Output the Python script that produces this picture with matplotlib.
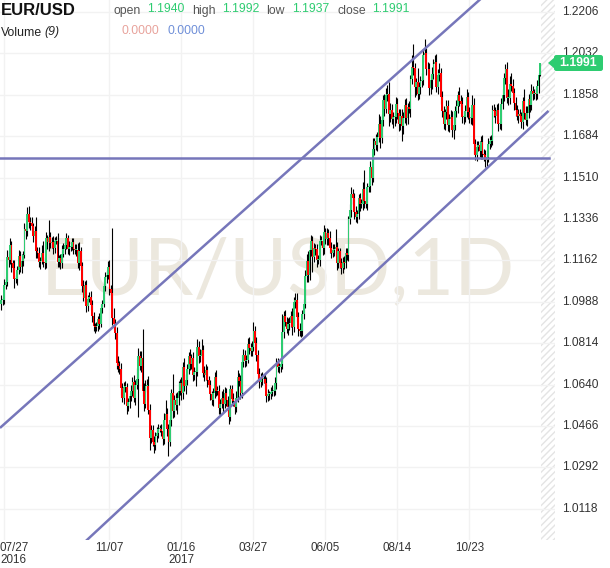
import numpy as np
import matplotlib.pyplot as plt
from matplotlib.patches import Polygon, FancyBboxPatch
from matplotlib.transforms import blended_transform_factory

plt.rcParams['font.family'] = ['Liberation Sans', 'DejaVu Sans']

# EUR/USD daily closes, one row per week (Mon..Fri), 2016-07-25 .. 2017-12-29
closes = [
    1.0995, 1.0995, 1.1060, 1.1070, 1.1175,
    1.1165, 1.1225, 1.1150, 1.1130, 1.1085,
    1.1085, 1.1120, 1.1180, 1.1135, 1.1160,
    1.1185, 1.1295, 1.1285, 1.1355, 1.1325,
    1.1320, 1.1305, 1.1265, 1.1285, 1.1200,
    1.1195, 1.1155, 1.1160, 1.1195, 1.1155,
    1.1150, 1.1255, 1.1240, 1.1260, 1.1235,
    1.1240, 1.1215, 1.1245, 1.1245, 1.1155,
    1.1170, 1.1150, 1.1190, 1.1210, 1.1225,
    1.1255, 1.1210, 1.1220, 1.1220, 1.1240,
    1.1210, 1.1205, 1.1205, 1.1150, 1.1200,
    1.1140, 1.1055, 1.1005, 1.1060, 1.0970,
    1.1000, 1.1010, 1.0975, 1.0930, 1.0885,
    1.0880, 1.0885, 1.0915, 1.0895, 1.0960,
    1.0980, 1.1055, 1.1090, 1.1100, 1.1135,
    1.1040, 1.1025, 1.0920, 1.0895, 1.0855,
    1.0730, 1.0720, 1.0705, 1.0625, 1.0585,
    1.0630, 1.0630, 1.0550, 1.0565, 1.0590,
    1.0615, 1.0650, 1.0585, 1.0640, 1.0665,
    1.0760, 1.0720, 1.0750, 1.0615, 1.0560,
    1.0635, 1.0635, 1.0535, 1.0415, 1.0450,
    1.0400, 1.0385, 1.0425, 1.0435, 1.0455,
    1.0455, 1.0445, 1.0410, 1.0490, 1.0515,
    1.0455, 1.0400, 1.0490, 1.0605, 1.0530,
    1.0575, 1.0555, 1.0585, 1.0615, 1.0645,
    1.0605, 1.0715, 1.0635, 1.0660, 1.0705,
    1.0760, 1.0725, 1.0750, 1.0680, 1.0695,
    1.0695, 1.0800, 1.0760, 1.0760, 1.0785,
    1.0690, 1.0680, 1.0700, 1.0660, 1.0640,
    1.0600, 1.0575, 1.0605, 1.0670, 1.0615,
    1.0615, 1.0540, 1.0560, 1.0585, 1.0560,
    1.0605, 1.0575, 1.0545, 1.0505, 1.0620,
    1.0580, 1.0570, 1.0545, 1.0585, 1.0670,
    1.0655, 1.0605, 1.0735, 1.0765, 1.0740,
    1.0745, 1.0810, 1.0795, 1.0780, 1.0800,
    1.0865, 1.0815, 1.0765, 1.0685, 1.0650,
    1.0670, 1.0665, 1.0665, 1.0645, 1.0590,
    1.0600, 1.0600, 1.0610, 1.0615, 1.0615,
    1.0645, 1.0730, 1.0715, 1.0715, 1.0725,
    1.0860, 1.0930, 1.0905, 1.0875, 1.0895,
    1.0900, 1.0930, 1.0880, 1.0985, 1.0995,
    1.0925, 1.0875, 1.0865, 1.0865, 1.0935,
    1.0980, 1.1095, 1.1160, 1.1100, 1.1205,
    1.1245, 1.1175, 1.1215, 1.1210, 1.1165,
    1.1165, 1.1245, 1.1245, 1.1215, 1.1280,
    1.1250, 1.1275, 1.1255, 1.1215, 1.1195,
    1.1205, 1.1210, 1.1220, 1.1150, 1.1200,
    1.1150, 1.1130, 1.1155, 1.1150, 1.1195,
    1.1185, 1.1335, 1.1375, 1.1440, 1.1425,
    1.1365, 1.1345, 1.1355, 1.1425, 1.1400,
    1.1400, 1.1460, 1.1410, 1.1400, 1.1470,
    1.1475, 1.1555, 1.1510, 1.1630, 1.1665,
    1.1645, 1.1680, 1.1735, 1.1675, 1.1750,
    1.1835, 1.1800, 1.1855, 1.1860, 1.1775,
    1.1795, 1.1755, 1.1765, 1.1765, 1.1820,
    1.1780, 1.1735, 1.1770, 1.1725, 1.1760,
    1.1815, 1.1760, 1.1805, 1.1800, 1.1925,
    1.1975, 1.1970, 1.1890, 1.1910, 1.1860,
    1.1890, 1.1915, 1.1920, 1.2025, 1.2035,
    1.1965, 1.1965, 1.1885, 1.1920, 1.1945,
    1.1985, 1.1995, 1.1890, 1.1940, 1.1950,
    1.1850, 1.1790, 1.1735, 1.1785, 1.1810,
    1.1730, 1.1755, 1.1765, 1.1710, 1.1730,
    1.1790, 1.1810, 1.1855, 1.1830, 1.1820,
    1.1765, 1.1765, 1.1790, 1.1850, 1.1785,
    1.1760, 1.1760, 1.1815, 1.1650, 1.1605,
    1.1640, 1.1645, 1.1620, 1.1660, 1.1610,
    1.1605, 1.1585, 1.1595, 1.1650, 1.1665,
    1.1665, 1.1795, 1.1790, 1.1770, 1.1795,
    1.1735, 1.1735, 1.1820, 1.1855, 1.1930,
    1.1965, 1.1845, 1.1845, 1.1905, 1.1895,
    1.1865, 1.1825, 1.1795, 1.1770, 1.1775,
    1.1770, 1.1745, 1.1830, 1.1780, 1.1750,
    1.1780, 1.1840, 1.1815, 1.1875, 1.1860,
    1.1865, 1.1860, 1.1895, 1.1940, 1.1991,
]
first_open = 1.0980

# upper / lower shadow length in pips, same layout
wick_up = [
    20, 15, 25, 20, 30,   25, 30, 20, 15, 35,   15, 20, 25, 20, 30,
    15, 25, 20, 30, 35,   20, 25, 15, 20, 60,   20, 25, 15, 30, 50,
    20, 25, 15, 70, 20,   20, 25, 15, 20, 30,   15, 20, 35, 25, 15,
    20, 15, 25, 20, 15,   15, 20, 25, 30, 40,   20, 15, 25, 15, 20,
    15, 20, 25, 20, 15,   15, 20, 15, 25, 20,   15, 20, 25, 20, 25,
    30, 20, 275, 40, 20,  25, 30, 20, 25, 20,   20, 25, 15, 20, 15,
    25, 20, 30, 20, 45,   35, 20, 30, 125, 30,  25, 30, 40, 25, 20,
    20, 25, 15, 25, 20,   15, 20, 30, 30, 60,   25, 20, 20, 15, 80,
    20, 30, 25, 40, 20,   25, 20, 35, 25, 20,   15, 30, 20, 25, 20,
    20, 30, 25, 30, 45,   20, 30, 25, 20, 15,   20, 15, 20, 25, 30,
    20, 25, 20, 30, 35,   25, 20, 15, 25, 20,   20, 25, 15, 30, 30,
    20, 25, 30, 25, 20,   20, 25, 30, 20, 25,   40, 20, 25, 20, 25,
    20, 25, 15, 20, 25,   20, 15, 20, 25, 15,   25, 20, 20, 15, 20,
    78, 20, 25, 20, 25,   25, 20, 30, 25, 30,   30, 20, 25, 20, 20,
    20, 25, 30, 40, 20,   25, 20, 20, 15, 20,   20, 25, 20, 25, 30,
    20, 25, 20, 30, 25,   25, 20, 75, 20, 15,   15, 20, 20, 25, 20,
    20, 15, 25, 30, 20,   20, 25, 20, 15, 20,   20, 30, 80, 20, 15,
    15, 25, 20, 45, 10,   30, 20, 40, 35, 25,   20, 25, 30, 40, 50,
    30, 25, 20, 20, 30,   25, 20, 30, 30, 25,   25, 30, 20, 25, 15,
    50, 95, 20, 20, 60,   20, 20, 30, 25, 57,   20, 30, 25, 20, 30,
    25, 30, 35, 25, 40,   20, 25, 20, 15, 25,   25, 20, 30, 25, 50,
    20, 25, 20, 35, 25,   30, 25, 25, 30, 20,   20, 20, 40, 30, 20,
    25, 20, 20, 25, 30,   20, 20, 20, 25, 20,   25, 20, 25, 15, 25,
    30, 20, 25, 25, 20,   20, 30, 35, 30, 45,   30, 20, 25, 20, 25,
    25, 15, 20, 50, 30,   30, 20, 30, 30, 20,   15, 20, 25, 10, 1,
]
wick_dn = [
    25, 20, 15, 20, 15,   30, 20, 35, 20, 40,   20, 25, 15, 20, 25,
    20, 15, 35, 20, 25,   30, 20, 25, 15, 30,   25, 20, 30, 15, 20,
    25, 20, 30, 40, 20,   20, 25, 20, 15, 20,   20, 25, 20, 15, 20,
    15, 20, 25, 20, 15,   20, 15, 25, 20, 30,   20, 25, 15, 20, 25,
    20, 15, 20, 25, 20,   25, 15, 20, 20, 15,   20, 15, 20, 25, 15,
    25, 30, 30, 25, 25,   25, 25, 20, 30, 20,   25, 20, 35, 20, 25,
    20, 25, 20, 30, 20,   160, 20, 25, 25, 30, 20, 25, 20, 50, 20,
    20, 33, 20, 25, 20,   15, 20, 25, 20, 20,   30, 60, 20, 25, 30,
    25, 20, 40, 30, 20,   30, 25, 20, 35, 20,   20, 25, 20, 25, 20,
    60, 20, 30, 25, 20,   20, 25, 20, 30, 20,   25, 20, 25, 20, 25,
    20, 25, 30, 20, 35,   20, 25, 25, 30, 20,   25, 20, 30, 20, 20,
    20, 25, 20, 20, 25,   20, 15, 25, 20, 20,   20, 30, 25, 20, 25,
    20, 25, 20, 25, 25,   20, 25, 20, 20, 25,   20, 25, 20, 25, 20,
    20, 25, 20, 20, 25,   25, 20, 30, 20, 25,   20, 30, 20, 25, 20,
    20, 20, 25, 30, 20,   25, 60, 20, 25, 30,   20, 25, 20, 30, 25,
    20, 25, 30, 20, 25,   20, 25, 20, 30, 20,   20, 25, 20, 25, 20,
    20, 25, 20, 30, 25,   30, 20, 25, 20, 30,   20, 25, 30, 20, 25,
    20, 25, 30, 20, 25,   20, 25, 20, 40, 20,   25, 30, 20, 25, 50,
    30, 20, 35, 40, 25,   25, 30, 25, 60, 30,   20, 30, 25, 20, 35,
    20, 30, 40, 35, 25,   20, 30, 25, 20, 30,   25, 20, 30, 25, 40,
    20, 25, 20, 30, 25,   30, 25, 20, 25, 30,   25, 30, 25, 30, 40,
    20, 25, 30, 20, 25,   25, 30, 20, 25, 30,   20, 25, 30, 40, 20,
    25, 20, 25, 30, 20,   25, 30, 25, 20, 20,   25, 20, 25, 30, 20,
    30, 20, 25, 20, 25,   25, 20, 30, 25, 20,   25, 30, 25, 20, 30,
    20, 25, 30, 25, 20,   25, 20, 30, 20, 25,   20, 25, 20, 30, 3,
]

tick_pos = [2, 75, 125, 175, 225, 275, 325]
tick_labels = ['07/27\n2016', '11/07', '01/16\n2017', '03/27', '06/05', '08/14', '10/23']
price_ticks = [1.2206, 1.2032, 1.1858, 1.1684, 1.1510, 1.1336, 1.1162,
               1.0988, 1.0814, 1.0640, 1.0466, 1.0292, 1.0118]

# drawn trend lines as (index, price) end points
upper_line = [(-0.97, 1.0458), (283.8, 1.1996)]
lower_line = [(59.4, 0.9987), (379.9, 1.1790)]
support_level = 1.1594
support_end = 379.9

header = [('open', '1.1940'), ('high', '1.1992'), ('low', '1.1937'), ('close', '1.1991')]
last_price = '1.1991'

GREEN = '#2ecc71'
RED = '#ff0000'
LINE = '#7676ba'

closes = np.array(closes)
opens = np.concatenate([[first_open], closes[:-1]])
highs = np.maximum(opens, closes) + np.array(wick_up) / 1e4
lows = np.minimum(opens, closes) - np.array(wick_dn) / 1e4
x = np.arange(len(closes))

W, H = 610, 568
fig = plt.figure(figsize=(W / 100, H / 100), dpi=100)
ax = fig.add_axes([0, 28 / H, 555 / W, 540 / H])
ax.set_xlim(-0.97, 384.4)
ax.set_ylim(0.9987, 1.2256)

for s in ax.spines.values():
    s.set_visible(False)
ax.set_xticks(tick_pos)
ax.set_xticklabels([])
ax.set_yticks(price_ticks)
ax.set_yticklabels([])
ax.tick_params(length=0)
ax.grid(True, color='#f2f2f2', lw=1)
ax.set_axisbelow(True)

# watermark
ax.text(0.5, 0.495, 'EUR/USD,1D', transform=ax.transAxes, ha='center', va='center',
        fontsize=57, family='Lato', color='#ece8de', zorder=0)

# future area hatch
ax.axvspan(374.5, 384.4, facecolor='none', edgecolor='#e4e4e4', hatch='/////', lw=0, zorder=0)

# candles
colors = np.where(closes >= opens, GREEN, RED)
ax.vlines(x, lows, highs, color='black', lw=0.8, zorder=2)
body = closes - opens
body = np.where(np.abs(body) < 0.0003, np.where(body >= 0, 0.0003, -0.0003), body)
ax.bar(x, body, bottom=opens, width=1.25, color=colors, lw=0, zorder=3)

# trend lines
def line_through(p, q, x0, x1):
    k = (q[1] - p[1]) / (q[0] - p[0])
    return [x0, x1], [p[1] + k * (x0 - p[0]), p[1] + k * (x1 - p[0])]

xs, ys = line_through(*upper_line, -1, 384)
ax.plot(xs, ys, color=LINE, lw=1.8, zorder=4, solid_capstyle='butt')
xs, ys = line_through(*lower_line, lower_line[0][0] - 2, lower_line[1][0])
ax.plot(xs, ys, color=LINE, lw=1.8, zorder=4, solid_capstyle='butt')
ax.plot([-1, support_end], [support_level] * 2, color=LINE, lw=1.8, zorder=4)

# price axis labels
tr = blended_transform_factory(fig.transFigure, ax.transData)
for p in price_ticks:
    fig.text(562 / W, p, f'{p:.4f}', transform=tr, ha='left', va='center',
             fontsize=8.6, color='#333333', zorder=2)

# date labels
trx = blended_transform_factory(ax.transData, fig.transFigure)
for i, (pos, lab) in enumerate(zip(tick_pos, tick_labels)):
    if i == 0:
        fig.text(0, 1 - 542 / H, lab, ha='left', va='top', fontsize=8.4,
                 color='#333333', linespacing=0.95)
    else:
        fig.text(pos, 1 - 542 / H, lab, transform=trx, ha='center', va='top',
                 fontsize=8.4, color='#333333', linespacing=0.95)

# last price tag, drawn over the axis label behind it
py = 63
tag = FancyBboxPatch((554 / W, 1 - (py + 8) / H), 49 / W, 16 / H,
                     boxstyle='round,pad=0,rounding_size=0.004',
                     transform=fig.transFigure, facecolor=GREEN, edgecolor='none', zorder=5)
fig.add_artist(tag)
arrow = Polygon([(548 / W, 1 - py / H), (555 / W, 1 - (py - 6) / H), (555 / W, 1 - (py + 6) / H)],
                closed=True, transform=fig.transFigure, facecolor=GREEN, edgecolor='none', zorder=5)
fig.add_artist(arrow)
fig.text(578.5 / W, 1 - py / H, last_price, ha='center', va='center', fontsize=8.8,
         fontweight='bold', color='white', zorder=6)

# header
fig.text(1 / W, 1 - 15 / H, 'EUR/USD', ha='left', va='baseline', fontsize=12,
         fontweight='bold', color='#111111')
label_x = [113, 192, 266, 337]
value_x = [147, 222, 292, 372]
for (lab, val), lx, vx in zip(header, label_x, value_x):
    fig.text(lx / W, 1 - 14 / H, lab, ha='left', va='baseline', fontsize=8.8, color='#555555')
    fig.text(vx / W, 1 - 11.5 / H, val, ha='left', va='baseline', fontsize=8.8, color=GREEN)

fig.text(1 / W, 1 - 35.5 / H, 'Volume', ha='left', va='baseline', fontsize=8.8, color='#222222')
fig.text(44 / W, 1 - 35.5 / H, '(9)', ha='left', va='baseline', fontsize=8.8,
         style='italic', color='#222222')
fig.text(122 / W, 1 - 34 / H, '0.0000', ha='left', va='baseline', fontsize=8.8, color='#e8a39c')
fig.text(167 / W, 1 - 34 / H, '0.0000', ha='left', va='baseline', fontsize=8.8, color='#6f8fd8')

fig.savefig('out.png', dpi=100)
